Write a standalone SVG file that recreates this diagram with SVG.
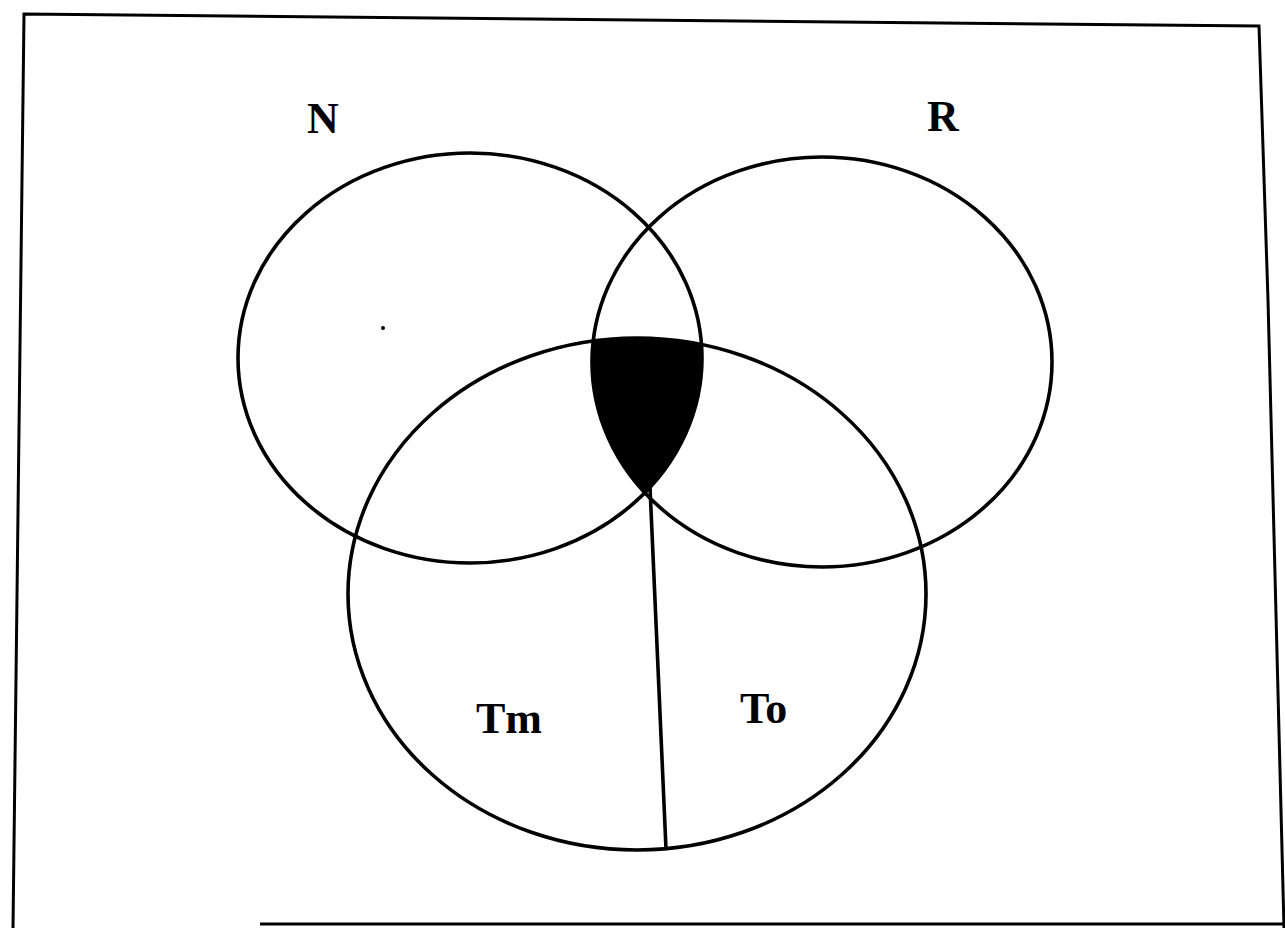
<svg xmlns="http://www.w3.org/2000/svg" width="1285" height="928" viewBox="0 0 1285 928">
  <style>
    .set { fill: none; stroke: #000; stroke-width: 3.6; }
    .lbl { font-family: "Liberation Serif", "Times New Roman", serif; font-weight: bold; font-size: 44px; fill: #000; }
    .frame { fill: none; stroke: #000; stroke-width: 3; }
  </style>
  <defs>
    <clipPath id="clipN"><ellipse cx="470" cy="358" rx="232" ry="205"/></clipPath>
    <clipPath id="clipR"><ellipse cx="822" cy="362" rx="230" ry="205"/></clipPath>
  </defs>
  <rect width="1285" height="928" fill="#fff"/>
  <g id="frame">
    <path class="frame" d="M13,928 L24,14 L1259,26 L1268,300 L1284,928"/>
    <path class="frame" d="M260,924 L1285,924"/>
  </g>
  <g id="shaded">
    <g clip-path="url(#clipN)">
      <ellipse cx="637" cy="594" rx="289" ry="256" fill="#000" clip-path="url(#clipR)"/>
    </g>
  </g>
  <g id="N">
    <ellipse class="set" cx="470" cy="358" rx="232" ry="205"/>
    <text class="lbl" x="307" y="133">N</text>
  </g>
  <g id="R">
    <ellipse class="set" cx="822" cy="362" rx="230" ry="205"/>
    <text class="lbl" x="927" y="131">R</text>
  </g>
  <g id="T">
    <ellipse class="set" cx="637" cy="594" rx="289" ry="256"/>
    <text class="lbl" x="476" y="733">Tm</text>
    <text class="lbl" x="740" y="723">To</text>
  </g>
  <g id="connectors">
    <line x1="650" y1="487" x2="666" y2="849" stroke="#000" stroke-width="3.6"/>
  </g>
  <circle cx="383" cy="328" r="2" fill="#000"/>
</svg>
